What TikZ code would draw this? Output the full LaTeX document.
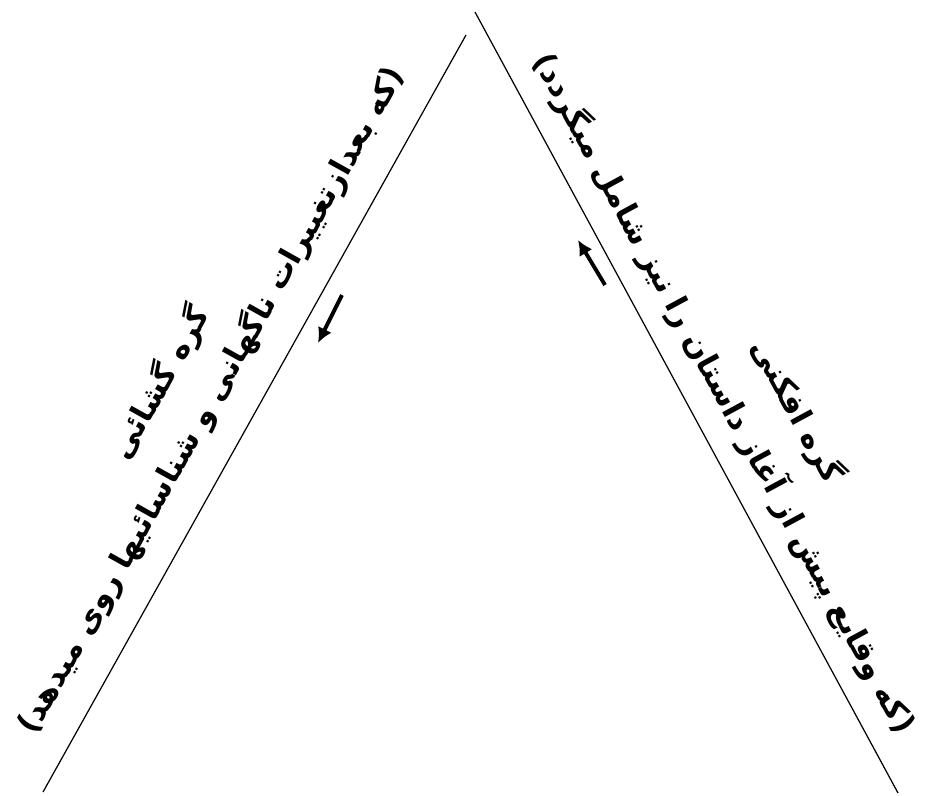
\documentclass[tikz,border=0pt]{standalone}
\usepackage{fontspec}
\usetikzlibrary{arrows.meta}
\newfontfamily\arabicfont[Script=Arabic]{DejaVu Sans}
\TeXXeTstate=1

\begin{document}
\begin{tikzpicture}[x=0.02cm,y=-0.02cm,
  side/.style={line width=0.7pt},
  heading/.style={font=\arabicfont\bfseries\fontsize{17.5}{21}\selectfont,inner sep=0pt},
  remark/.style={font=\arabicfont\bfseries\fontsize{17.5}{21}\selectfont,inner sep=0pt},
  flow/.style={line width=2.2pt,-{Latex[length=3mm,width=3mm]}}]

\useasboundingbox (0,0) rectangle (925,795);

% Ends of the two sides
\coordinate (ltop) at (466,35);
\coordinate (lbot) at (43,792);
\coordinate (rtop) at (475,12);
\coordinate (rbot) at (898,793);

% Sides
\draw[side] (lbot) -- (ltop);
\draw[side] (rtop) -- (rbot);

% Left side: resolution
\node[heading,rotate=60.8] (untie) at (160,383) {\beginR گره گشائی\endR};
\node[remark,rotate=60.8] (untienote) at (211,400)
  {\beginR (که بعدازتغییرات ناگهانی و شناسائیها روی میدهد)\endR};

% Right side: complication
\node[heading,rotate=-61.6] (tie) at (797,411) {\beginR گره افکنی\endR};
\node[remark,rotate=-61.6] (tienote) at (725,393)
  {\beginR (که وقایع پیش از آغاز داستان را نیز شامل میگردد)\endR};

% Direction arrows
\coordinate (downfrom) at (342,295);
\coordinate (downto) at (318,343);
\coordinate (upfrom) at (605,285);
\coordinate (upto) at (578,240);
\draw[flow] (downfrom) -- (downto);
\draw[flow] (upfrom) -- (upto);

\end{tikzpicture}
\end{document}
